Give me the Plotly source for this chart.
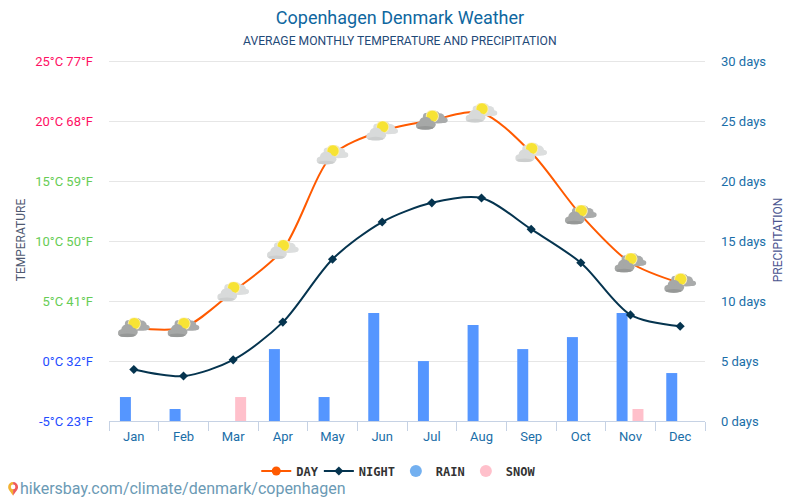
import base64
import plotly.graph_objects as go

MONTHS = ["Jan", "Feb", "Mar", "Apr", "May", "Jun", "Jul", "Aug", "Sep", "Oct", "Nov", "Dec"]
DAY_C = [2.8, 2.8, 5.8, 9.3, 17.2, 19.2, 20.1, 20.7, 17.4, 12.2, 8.2, 6.5]
NIGHT_C = [-0.7, -1.25, 0.1, 3.25, 8.5, 11.6, 13.2, 13.6, 11.0, 8.2, 3.85, 2.9]
RAIN_DAYS = [2, 1, 0, 6, 2, 9, 5, 8, 6, 7, 9, 4]
SNOW_DAYS = [0, 0, 2, 0, 0, 0, 0, 0, 0, 0, 1, 0]
DARK_CLOUD = [True, True, False, False, False, False, True, False, False, True, True, True]

TEMP_TICKS = [-5, 0, 5, 10, 15, 20, 25]
TEMP_LABELS = ["-5°C 23°F", "0°C 32°F", "5°C 41°F", "10°C 50°F", "15°C 59°F", "20°C 68°F", "25°C 77°F"]
TEMP_COLORS = ["#1f4dff", "#1f4dff", "#66cc55", "#66cc55", "#66cc55", "#ff0f64", "#ff0f64"]
DAY_TICKS = [0, 5, 10, 15, 20, 25, 30]
DAY_LABELS = [f"{d} days" for d in DAY_TICKS]

W, H = 800, 500
# A little headroom above the top tick keeps its gridline from being clipped.
HEADROOM = 0.2
L, R, T, B = 108.5, 705, 61.5 - 12 * HEADROOM, 421.5


def weather_icon(back, front, shade):
    svg = f"""<svg xmlns='http://www.w3.org/2000/svg' viewBox='0 0 32 20' width='64' height='40'>
<g fill='{back}'><ellipse cx='11.5' cy='6' rx='4.5' ry='3.5'/><ellipse cx='19' cy='5' rx='5' ry='4.5'/>
<ellipse cx='24' cy='7.5' rx='5' ry='4.5'/><ellipse cx='28' cy='10' rx='4' ry='2.8'/>
<ellipse cx='22' cy='11' rx='9.5' ry='2.4'/></g>
<circle cx='16.5' cy='6' r='6.6' fill='#fbeeb0'/><circle cx='16.5' cy='6' r='5.7' fill='#f7e334'/>
<g fill='{front}'><ellipse cx='9.5' cy='12' rx='6.2' ry='5.5'/><ellipse cx='4.5' cy='15.5' rx='4.5' ry='3.8'/>
<ellipse cx='14.5' cy='14.5' rx='5.5' ry='4.2'/><ellipse cx='9.5' cy='17' rx='9' ry='2.8'/></g>
<ellipse cx='9.5' cy='17.8' rx='8' ry='1.8' fill='{shade}'/></svg>"""
    return "data:image/svg+xml;base64," + base64.b64encode(svg.encode()).decode()


PIN = """<svg xmlns='http://www.w3.org/2000/svg' viewBox='0 0 12 16' width='24' height='32'>
<path d='M6 15.5 C4 11.5 .6 9.5 .6 5.8 A5.4 5.4 0 0 1 6 .4 Z' fill='#f2b233'/>
<path d='M6 15.5 C8 11.5 11.4 9.5 11.4 5.8 A5.4 5.4 0 0 0 6 .4 Z' fill='#ef5b5b'/>
<circle cx='6' cy='5.8' r='2.5' fill='#fff'/></svg>"""
PIN_URI = "data:image/svg+xml;base64," + base64.b64encode(PIN.encode()).decode()

DARK_ICON = weather_icon("#a9abab", "#a6a8a7", "#969897")
LIGHT_ICON = weather_icon("#dcdede", "#d8dada", "#cccece")

fig = go.Figure()

# Precipitation bars sit on the base axis so the temperature lines draw over them.
fig.add_bar(x=MONTHS, y=RAIN_DAYS, yaxis="y", marker_color="#5596ff", marker_line_width=0,
            width=0.221, offset=-0.28, showlegend=False, hoverinfo="x+y", name="RAIN")
fig.add_bar(x=MONTHS, y=SNOW_DAYS, yaxis="y", marker_color="#ffc0cb", marker_line_width=0,
            width=0.221, offset=0.04, showlegend=False, hoverinfo="x+y", name="SNOW")

fig.add_scatter(x=MONTHS, y=DAY_C, yaxis="y2", name="DAY", mode="lines+markers", legendwidth=17.6,
                line=dict(color="#ff5a00", width=2, shape="spline", smoothing=0.85),
                marker=dict(symbol="circle", size=9, color="#ff5a00"))
fig.add_scatter(x=MONTHS, y=NIGHT_C, yaxis="y2", name="NIGHT", mode="lines+markers", legendwidth=32,
                line=dict(color="#05344f", width=2, shape="spline", smoothing=0.85),
                marker=dict(symbol="diamond", size=7, color="#05344f"))

# Legend entries for the bars use round swatches.
fig.add_scatter(x=[None], y=[None], yaxis="y2", name="RAIN", mode="markers", legendwidth=25,
                marker=dict(symbol="circle", size=12, color="#73b0f0"))
fig.add_scatter(x=[None], y=[None], yaxis="y2", name="SNOW", mode="markers", legendwidth=25,
                marker=dict(symbol="circle", size=12, color="#ffc0cb"))

images = [
    dict(source=DARK_ICON if dark else LIGHT_ICON, xref="x", yref="y2", x=i, y=v,
         sizex=0.66, sizey=1.65, xanchor="center", yanchor="middle", layer="above")
    for i, (v, dark) in enumerate(zip(DAY_C, DARK_CLOUD))
]
images.append(dict(source=PIN_URI, xref="paper", yref="paper",
                   x=(7 - L) / (R - L), y=(B - 482) / (B - T),
                   sizex=11 / (R - L), sizey=15 / (B - T), xanchor="left", yanchor="top", layer="above"))

fig.update_layout(
    width=W, height=H, autosize=False,
    margin=dict(l=L, r=W - R, t=T, b=H - B, pad=0),
    paper_bgcolor="#ffffff", plot_bgcolor="#ffffff",
    font=dict(family="Roboto", size=13, color="#1a6ea8"),
    barmode="overlay",
    title=dict(text="Copenhagen Denmark Weather", x=0.5, xanchor="center", xref="container",
               y=1 - 18 / H, yanchor="middle", yref="container",
               font=dict(family="Roboto", size=18, color="#0f67a0")),
    xaxis=dict(type="category", categoryorder="array", categoryarray=MONTHS,
               range=[-0.5, 11.5], tickson="boundaries", ticks="outside", ticklen=9,
               tickwidth=1, tickcolor="#c6d2e4", showline=True, linecolor="#c6d2e4", linewidth=1,
               showgrid=False, zeroline=False, fixedrange=True, ticklabelstandoff=3,
               tickfont=dict(family="Roboto", size=13, color="#1a6ea8")),
    yaxis=dict(side="right", range=[0, 30 + HEADROOM], tickmode="array", tickvals=DAY_TICKS, ticktext=DAY_LABELS,
               showgrid=True, gridcolor="#e6e6e6", gridwidth=1, zeroline=False, showline=False,
               ticks="", ticklabelstandoff=15, fixedrange=True,
               tickfont=dict(family="Roboto", size=13, color="#1a6ea8"),
               title=dict(text="PRECIPITATION", font=dict(family="Roboto", size=12, color="#4b5590"), standoff=8)),
    yaxis2=dict(side="left", overlaying="y", range=[-5, 25 + HEADROOM], tickmode="array", tickvals=TEMP_TICKS,
                ticktext=[f'<span style="color:{c}">{t}</span>' for t, c in zip(TEMP_LABELS, TEMP_COLORS)],
                showgrid=False, zeroline=False, showline=False, ticks="", ticklabelstandoff=15, fixedrange=True,
                tickfont=dict(family="Roboto", size=13),
                title=dict(text="TEMPERATURE", font=dict(family="Roboto", size=12, color="#4f5a72"), standoff=6)),
    legend=dict(orientation="h", x=(396 - L) / (R - L), xref="paper", xanchor="center", y=(H - 471) / H,
                yref="container", yanchor="middle", bgcolor="rgba(0,0,0,0)", itemwidth=30, itemsizing="trace",
                font=dict(family="DejaVu Sans Mono", size=12, color="#333333", weight="bold")),
    images=images,
    annotations=[
        dict(text="AVERAGE MONTHLY TEMPERATURE AND PRECIPITATION", xref="paper", yref="paper", showarrow=False,
             x=(400 - L) / (R - L), y=(B - 41) / (B - T), xanchor="center", yanchor="middle",
             font=dict(family="Roboto", size=12.15, color="#1f4a78")),
        dict(text="hikersbay.com/climate/denmark/copenhagen", xref="paper", yref="paper", showarrow=False,
             x=(17 - L) / (R - L), y=(B - 489.5) / (B - T), xanchor="left", yanchor="middle",
             font=dict(family="Roboto", size=16, color="#6b9ab5")),
    ],
    hovermode="x",
)

fig.write_html("out.html", config=dict(displayModeBar=False))
